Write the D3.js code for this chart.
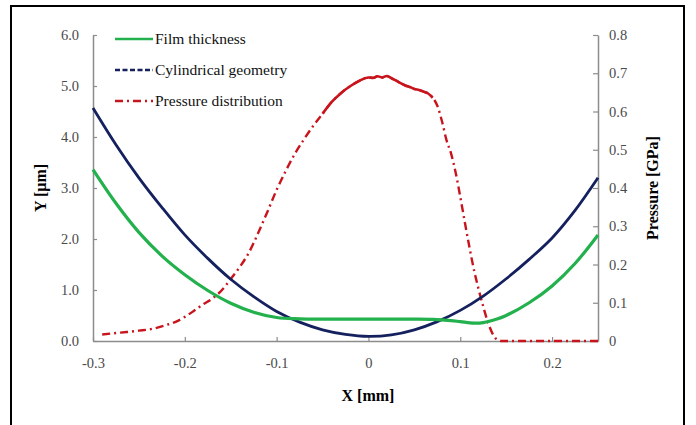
<!DOCTYPE html>
<html><head><meta charset="utf-8">
<script src="https://cdn.jsdelivr.net/npm/d3@7"></script>
<style>body{margin:0;background:#fff}svg{display:block}text{font-family:"Liberation Serif","Times New Roman",serif}</style>
</head><body><svg id="c" width="696" height="425"></svg>
<script>
// ---- data ----
const filmX = [-0.3,-0.275,-0.25,-0.225,-0.2,-0.175,-0.15,-0.125,-0.1,-0.075,-0.05,-0.025,0,0.025,0.05,0.07,0.09,0.1,0.115,0.125,0.14,0.15,0.175,0.2,0.225,0.25];
const filmY = [3.36,2.70,2.13,1.67,1.30,0.99,0.74,0.565,0.46,0.435,0.43,0.43,0.43,0.43,0.43,0.425,0.40,0.38,0.35,0.36,0.43,0.5,0.75,1.08,1.52,2.08];
const cylX = [-0.3,-0.275,-0.25,-0.225,-0.2,-0.175,-0.15,-0.125,-0.1,-0.075,-0.05,-0.025,0,0.025,0.05,0.075,0.1,0.125,0.15,0.175,0.2,0.225,0.25];
const cylY = [4.57,3.85,3.2,2.62,2.08,1.62,1.21,0.87,0.58,0.37,0.22,0.13,0.09,0.12,0.22,0.38,0.6,0.88,1.22,1.6,2.02,2.56,3.2];
const presX = [-0.29,-0.27,-0.25,-0.235,-0.22,-0.21,-0.2,-0.19,-0.18,-0.17,-0.16,-0.15,-0.14,-0.13,-0.12,-0.11,-0.1,-0.09,-0.08,-0.07,-0.06,-0.05,-0.04,-0.03,-0.02,-0.01,0,0.005,0.01,0.015,0.02,0.025,0.03,0.035,0.04,0.045,0.05,0.055,0.06,0.065,0.07,0.075,0.08,0.085,0.09,0.095,0.1,0.105,0.11,0.115,0.12,0.125,0.13,0.135,0.14,0.145,0.25];
const presY = [0.017,0.022,0.027,0.032,0.042,0.05,0.063,0.079,0.096,0.111,0.132,0.162,0.194,0.232,0.283,0.338,0.395,0.445,0.49,0.528,0.563,0.594,0.625,0.648,0.666,0.68,0.689,0.688,0.692,0.689,0.693,0.687,0.681,0.674,0.668,0.664,0.659,0.656,0.652,0.647,0.636,0.615,0.575,0.525,0.49,0.44,0.377,0.31,0.245,0.185,0.135,0.09,0.05,0.02,0.004,0,0];
const xTicks = [-0.3,-0.2,-0.1,0,0.1,0.2];
const xTickLabels = ["-0.3","-0.2","-0.1","0","0.1","0.2"];
const yTicks = [0,1,2,3,4,5,6];
const yTickLabels = ["0.0","1.0","2.0","3.0","4.0","5.0","6.0"];
const pTicks = [0,0.1,0.2,0.3,0.4,0.5,0.6,0.7,0.8];
const pTickLabels = ["0","0.1","0.2","0.3","0.4","0.5","0.6","0.7","0.8"];
const seriesNames = ["Film thickness","Cylindrical geometry","Pressure distribution"];

// ---- layout ----
const svg = d3.select("#c");
const L = 93, R = 598, T = 35, B = 341;
const x = d3.scaleLinear().domain([-0.3,0.25]).range([L,R]);
const y = d3.scaleLinear().domain([0,6]).range([B,T]);
const p = d3.scaleLinear().domain([0,0.8]).range([B,T]);
const axisCol = "#8c8c8c", tickCol = "#4a4a4a";
const cGreen = "#22b14c", cNavy = "#14215e", cRed = "#c8141c";

svg.append("rect").attr("x",11).attr("y",6).attr("width",673).attr("height",440)
  .attr("fill","none").attr("stroke","#000").attr("stroke-width",2);

function styleAxis(g){
  g.select(".domain").attr("stroke",axisCol).attr("stroke-width",1.5);
  g.selectAll(".tick line").attr("stroke",axisCol).attr("stroke-width",1.2);
  g.selectAll(".tick text").attr("fill",tickCol).style("font-size","14.5px").style("font-family","Liberation Serif");
}
const gx = svg.append("g").attr("transform",`translate(0,${B})`)
  .call(d3.axisBottom(x).tickValues(xTicks).tickFormat((d,i)=>xTickLabels[i]).tickSizeInner(-4).tickSizeOuter(0).tickPadding(17));
styleAxis(gx);
const gy = svg.append("g").attr("transform",`translate(${L},0)`)
  .call(d3.axisLeft(y).tickValues(yTicks).tickFormat((d,i)=>yTickLabels[i]).tickSizeInner(-4).tickSizeOuter(0).tickPadding(14));
styleAxis(gy);
const gp = svg.append("g").attr("transform",`translate(${R},0)`)
  .call(d3.axisRight(p).tickValues(pTicks).tickFormat((d,i)=>pTickLabels[i]).tickSizeInner(-5).tickSizeOuter(0).tickPadding(11));
styleAxis(gp);

// ---- lines ----
const lineY = d3.line().x(d=>x(d[0])).y(d=>y(d[1])).curve(d3.curveCatmullRom.alpha(0.5));
const lineP = d3.line().x(d=>x(d[0])).y(d=>p(d[1])).curve(d3.curveMonotoneX);
const film = filmX.map((v,i)=>[v,filmY[i]]);
const cyl = cylX.map((v,i)=>[v,cylY[i]]);
const pres = presX.map((v,i)=>[v,presY[i]]);

svg.append("path").datum(pres).attr("d",lineP).attr("fill","none").attr("stroke",cRed)
  .attr("stroke-width",2.4).attr("stroke-dasharray","8,4,2,4");
svg.append("path").datum(pres.filter(d=>d[0]>=-0.055&&d[0]<=0.07)).attr("d",lineP).attr("fill","none")
  .attr("stroke",cRed).attr("stroke-width",2.6);
svg.append("path").datum(cyl).attr("d",lineY).attr("fill","none").attr("stroke",cNavy).attr("stroke-width",2.8);
svg.append("path").datum(film).attr("d",lineY).attr("fill","none").attr("stroke",cGreen).attr("stroke-width",3.2);

// ---- legend ----
const legY = [39,70,101], legCol=[cGreen,cNavy,cRed], legDash=[null,"5,2.5","8,4,2,4"];
seriesNames.forEach((n,i)=>{
  svg.append("line").attr("x1",115).attr("x2",153).attr("y1",legY[i]).attr("y2",legY[i])
    .attr("stroke",legCol[i]).attr("stroke-width",2.6).attr("stroke-dasharray",legDash[i]);
  svg.append("text").attr("x",155).attr("y",legY[i]+5).text(n).style("font-size","15.5px").attr("fill","#111");
});

// ---- titles ----
svg.append("text").attr("transform","translate(46,188) rotate(-90)").attr("text-anchor","middle")
  .style("font-size","16px").style("font-weight","bold").text("Y [µm]");
svg.append("text").attr("transform","translate(658,188) rotate(-90)").attr("text-anchor","middle")
  .style("font-size","16px").style("font-weight","bold").text("Pressure [GPa]");
svg.append("text").attr("x",368).attr("y",401).attr("text-anchor","middle")
  .style("font-size","16px").style("font-weight","bold").text("X [mm]");
</script></body></html>
